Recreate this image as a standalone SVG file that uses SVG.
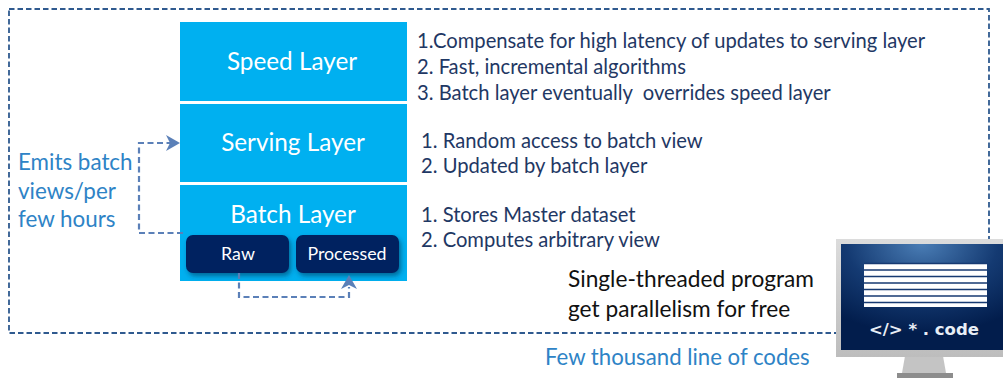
<svg xmlns="http://www.w3.org/2000/svg" width="1003" height="378" viewBox="0 0 1003 378">
<style>
text{font-family:Lato,"Open Sans","Liberation Sans",sans-serif}
.layer{fill:#00b0f0}
.lt{fill:#fff;font-size:24.300px;text-anchor:middle}
.box{fill:#002060}
.bt{fill:#fff;font-size:17.800px;text-anchor:middle}
.d{fill:#1f3864;font-size:20.200px}
.b{fill:#2e83c6;font-size:22.400px}
.k{fill:#111;font-size:22.700px}
.con{fill:none;stroke:#5b80b8;stroke-width:2.200;stroke-dasharray:6 3.5}
.ah{fill:#5b80b8}
</style>
<defs>
<radialGradient id="sc" cx=".5" cy="0" r=".85"><stop offset="0" stop-color="#4a7db5"/><stop offset=".55" stop-color="#143a72"/><stop offset="1" stop-color="#021d4c"/></radialGradient>
<linearGradient id="fr" x1="0" y1="0" x2="0" y2="1"><stop offset="0" stop-color="#dcdcdc"/><stop offset="1" stop-color="#bdbdbd"/></linearGradient>
<filter id="sh" x="-10%" y="-10%" width="125%" height="135%"><feDropShadow dx="2" dy="3" stdDeviation="2.500" flood-color="#00324f" flood-opacity=".55"/></filter>
</defs>
<rect id="frame" x="9" y="9" width="980" height="324" fill="none" stroke="#2f5a8f" stroke-width="1.800" stroke-dasharray="5.500 3"/>
<g id="speed"><rect class="layer" x="180" y="22" width="227" height="79"/><text class="lt" x="292" y="70">Speed Layer</text></g>
<g id="serving"><rect class="layer" x="180" y="104" width="227" height="78"/><text class="lt" x="293" y="151">Serving Layer</text></g>
<g id="batch"><rect class="layer" x="180" y="185" width="227" height="96"/><text class="lt" x="293" y="223">Batch Layer</text></g>
<g id="raw"><rect class="box" x="186" y="235" width="103" height="38" rx="7" filter="url(#sh)"/><text class="bt" x="238" y="260">Raw</text></g>
<g id="processed"><rect class="box" x="296" y="235" width="103" height="38" rx="7" filter="url(#sh)"/><text class="bt" x="347" y="260">Processed</text></g>
<g id="connectors">
<path class="con" d="M183 233H139V143H170"/><path class="ah" d="M180 143L166 135L170 143L166 151Z"/>
<path class="con" d="M239 273V297H349V287"/><path class="ah" d="M349 275L341 289L349 285L357 289Z"/>
</g>
<g id="speed-notes" class="d"><text x="417" y="48">1.Compensate for high latency of updates to serving layer</text><text x="417" y="74">2. Fast, incremental algorithms</text><text x="417" y="100" xml:space="preserve">3. Batch layer eventually  overrides speed layer</text></g>
<g id="serving-notes" class="d"><text x="421" y="148">1. Random access to batch view</text><text x="421" y="173">2. Updated by batch layer</text></g>
<g id="batch-notes" class="d"><text x="421" y="222">1. Stores Master dataset</text><text x="421" y="247">2. Computes arbitrary view</text></g>
<g id="emits" class="b"><text x="18" y="170">Emits batch</text><text x="18" y="199">views/per</text><text x="18" y="227">few hours</text></g>
<g id="single" class="k"><text x="568" y="287">Single-threaded program</text><text x="568" y="317">get parallelism for free</text></g>
<text id="few" x="545" y="365" fill="#2e83c6" font-size="22.200">Few thousand line of codes</text>
<g id="monitor">
<path d="M905 356H943L946 373H902Z" fill="#c4c4c4"/><path d="M897 373H953V378H897Z" fill="#8d8d8d"/>
<rect x="836" y="239" width="167" height="118" fill="url(#fr)"/>
<rect x="841" y="244" width="162" height="106" fill="url(#sc)"/>
<rect x="864" y="263" width="123" height="44" fill="#fff"/>
<path d="M864 263.500H987M864 270H987M864 276.500H987M864 283H987M864 289.500H987M864 296H987M864 302.500H987" stroke="#173a72" stroke-width="1.300" fill="none"/>
<text x="869" y="335" fill="#e8eef6" font-size="16.500" font-weight="700" style="font-family:'DejaVu Sans',sans-serif">&lt;/&gt; * . code</text>
</g>
</svg>
